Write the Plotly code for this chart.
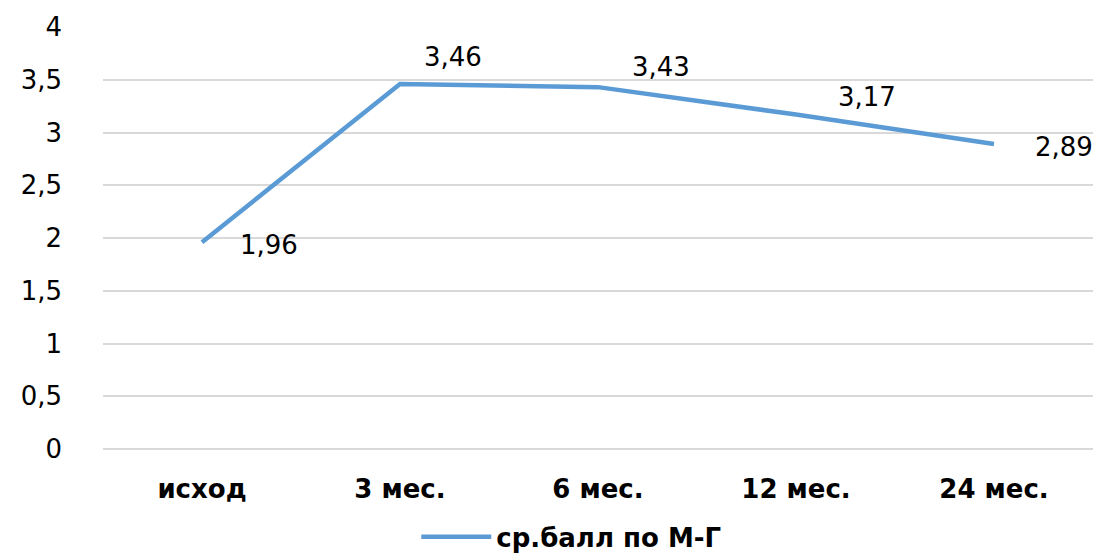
import plotly.graph_objects as go

categories = ["исход", "3 мес.", "6 мес.", "12 мес.", "24 мес."]
scores = [1.96, 3.46, 3.43, 3.17, 2.89]
series_name = "ср.балл по М-Г"
y_ticks = [0, 0.5, 1, 1.5, 2, 2.5, 3, 3.5, 4]
y_tick_labels = ["0", "0,5", "1", "1,5", "2", "2,5", "3", "3,5", "4"]

# label offsets (pixels) relative to each point
label_shift = [(67, -3), (53, 27), (63, 20), (71, 18), (70, -3)]

LINE_COLOR = "#5B9BD5"
FONT = "DejaVu Sans"
SIZE = 26

fig = go.Figure()
fig.add_trace(go.Scatter(
    x=categories, y=scores, mode="lines", name=series_name,
    line=dict(color=LINE_COLOR, width=4.5),
    showlegend=True,
))

for cat, val, (dx, dy) in zip(categories, scores, label_shift):
    fig.add_annotation(
        x=cat, y=val, text=f"{val:.2f}".replace(".", ","),
        showarrow=False, xshift=dx, yshift=dy,
        font=dict(family=FONT, size=SIZE, color="#000000"),
    )

fig.update_layout(
    width=1104, height=554,
    margin=dict(l=103, r=11, t=27, b=105, autoexpand=False),
    paper_bgcolor="white", plot_bgcolor="white",
    font=dict(family=FONT, size=SIZE, color="#000000"),
    showlegend=True,
    legend=dict(
        orientation="h", x=0.473, xanchor="center", y=-0.208, yanchor="middle",
        font=dict(family=FONT, size=SIZE, color="#000000", weight="bold"),
        itemwidth=70,
    ),
    xaxis=dict(
        type="category", range=[-0.5, 4.5],
        showgrid=False, showline=False, zeroline=False,
        ticks="", ticklabelstandoff=22,
        tickfont=dict(family=FONT, size=SIZE, color="#000000", weight="bold"),
    ),
    yaxis=dict(
        range=[0, 4], tickvals=y_ticks, ticktext=y_tick_labels,
        showgrid=True, gridcolor="#D9D9D9", gridwidth=1.5,
        zeroline=True, zerolinecolor="#D9D9D9", zerolinewidth=1.5,
        showline=False, ticks="",
        ticklabelstandoff=40,
        tickfont=dict(family=FONT, size=SIZE, color="#000000"),
    ),
)

fig.write_html("out.html")
